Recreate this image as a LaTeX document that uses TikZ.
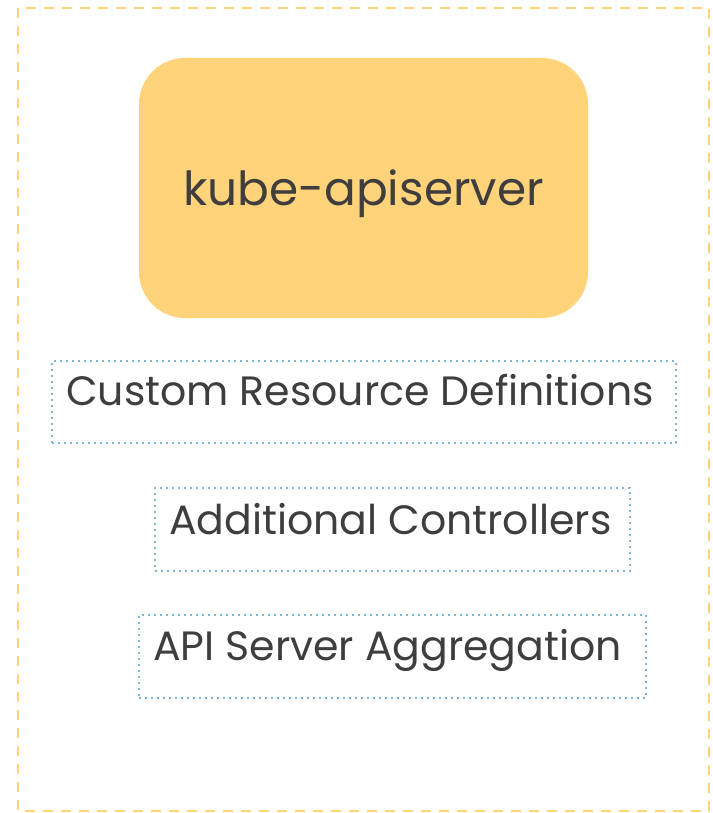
\documentclass[tikz,border=0pt]{standalone}
\usepackage{fontspec}
\setmainfont{Poppins}
\definecolor{kyellow}{HTML}{FED37A}
\definecolor{kdash}{HTML}{FFD478}
\definecolor{kblue}{HTML}{7FB6D6}
\definecolor{ktext}{HTML}{3F3D3E}
\begin{document}
\begin{tikzpicture}[x=1pt,y=-1pt,
  outerbox/.style={draw=kdash,line width=2.4pt,dash pattern=on 10pt off 8pt},
  apibox/.style={fill=kyellow,rounded corners=46pt,inner sep=0pt},
  dotbox/.style={draw=kblue,line width=1.6pt,dash pattern=on 1.6pt off 4.4pt,inner sep=0pt},
  lbl/.style={text=ktext,inner sep=0pt,font=\fontsize{41}{48}\selectfont},
]
\useasboundingbox (0,0) rectangle (712,813);
\draw[outerbox] (18,8) rectangle (709,811);
\node[apibox,minimum width=449pt,minimum height=260pt] (api) at (363.5,188) {};
\node[text=ktext,inner sep=0pt,font=\fontsize{47}{54}\selectfont,anchor=base] (apit) at (363.5,205) {kube-apiserver};
\node[dotbox,minimum width=624pt,minimum height=82pt] (crd) at (364,402) {};
\node[lbl,anchor=base west] (crdt) at (66,405) {Custom Resource Definitions};
\node[dotbox,minimum width=475pt,minimum height=83pt] (ac) at (392.5,529.5) {};
\node[lbl,anchor=base west] (act) at (169,534) {Additional Controllers};
\node[dotbox,minimum width=507pt,minimum height=83pt] (asa) at (392.5,656.5) {};
\node[lbl,anchor=base west] (asat) at (153,660) {API Server Aggregation};
\end{tikzpicture}
\end{document}
